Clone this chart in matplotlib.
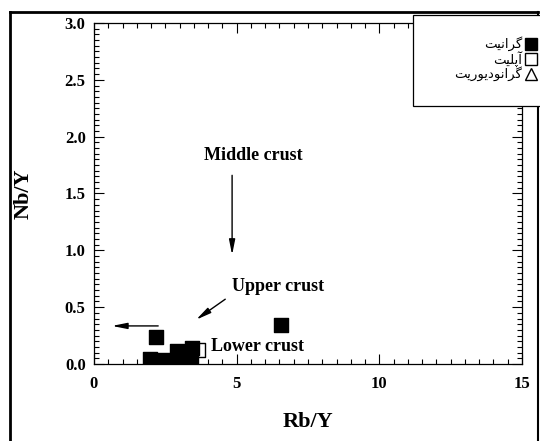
import matplotlib
matplotlib.use("Agg")
import matplotlib.pyplot as plt
from matplotlib.lines import Line2D
from matplotlib.patches import Rectangle
from matplotlib.ticker import MultipleLocator, FormatStrFormatter

# Rb/Y and Nb/Y ratios
granite_rby = [2.18, 1.96, 2.42, 2.91, 2.95, 3.44, 3.40, 6.56]
granite_nby = [0.24, 0.045, 0.035, 0.11, 0.05, 0.14, 0.05, 0.34]
aplite_rby = [3.65]
aplite_nby = [0.12]

# Persian legend labels in visual (left-to-right) order with joined letter forms
label_granite = "\uFE96\uFBFF\uFEE7\uFE8D\uFEAE\uFB94"                      # گرانیت
label_aplite = "\uFE96\uFBFF\uFEE0\uFB58\uFE81"                             # آپلیت
label_granodiorite = "\uFE96\uFBFE\uFEAD\uFEEE\uFBFE\uFEA9\uFEEE\uFEE7\uFE8D\uFEAE\uFB94"  # گرانودیوریت

serif = ["Liberation Serif", "DejaVu Serif"]
W, H = 540, 441

fig = plt.figure(figsize=(W / 100, H / 100), dpi=100)
ax = fig.add_axes([94 / W, 1 - 364 / H, (522 - 94) / W, (364 - 23) / H])

ax.scatter(granite_rby, granite_nby, marker="s", s=110, c="black",
           edgecolors="black", zorder=3)
ax.scatter(aplite_rby, aplite_nby, marker="s", s=110, facecolors="white",
           edgecolors="black", linewidths=1, zorder=2)

ax.set_xlim(0, 15)
ax.set_ylim(0, 3.0)
ax.xaxis.set_major_locator(MultipleLocator(5))
ax.xaxis.set_minor_locator(MultipleLocator(0.5))
ax.yaxis.set_major_locator(MultipleLocator(0.5))
ax.yaxis.set_minor_locator(MultipleLocator(0.05))
ax.tick_params(which="both", direction="in", top=True, right=True, width=0.8)
ax.tick_params(which="major", length=7)
ax.tick_params(which="minor", length=3.5)
for sp in ax.spines.values():
    sp.set_linewidth(0.9)

ax.xaxis.set_major_formatter(FormatStrFormatter("%d"))
ax.yaxis.set_major_formatter(FormatStrFormatter("%.1f"))
for lbl in ax.get_xticklabels() + ax.get_yticklabels():
    lbl.set_fontfamily(serif)
    lbl.set_fontweight("bold")
    lbl.set_fontsize(12)
ax.tick_params(axis="x", pad=9)
ax.tick_params(axis="y", pad=6)

ax.set_xlabel("Rb/Y", fontfamily=serif, fontweight="bold", fontsize=16, labelpad=14)
ax.set_ylabel("Nb/Y", fontfamily=serif, fontweight="bold", fontsize=16, labelpad=22)

text_kw = dict(fontfamily=serif, fontweight="bold", fontsize=13)
arrow_kw = dict(arrowstyle="-|>,head_length=0.9,head_width=0.18", color="black",
                lw=1.0, shrinkA=0, shrinkB=0)

ax.text(5.6, 1.83, "Middle crust", ha="center", va="center", **text_kw)
ax.annotate("", xy=(4.84, 0.96), xytext=(4.84, 1.66), arrowprops=arrow_kw)

ax.text(6.45, 0.68, "Upper crust", ha="center", va="center", **text_kw)
ax.annotate("", xy=(3.58, 0.39), xytext=(4.6, 0.57), arrowprops=arrow_kw)
ax.annotate("", xy=(0.63, 0.335), xytext=(2.25, 0.335), arrowprops=arrow_kw)

ax.text(4.1, 0.15, "Lower crust", ha="left", va="center", **text_kw)

# legend box (right-to-left: label, then symbol)
fig.add_artist(Rectangle((413 / W, 1 - 106 / H), 140 / W, 91 / H,
                         transform=fig.transFigure, facecolor="white",
                         edgecolor="black", lw=0.9, zorder=5))
legend_rows = [
    (label_granite, dict(marker="s", mfc="black", mec="black")),
    (label_aplite, dict(marker="s", mfc="white", mec="black")),
    (label_granodiorite, dict(marker="^", mfc="white", mec="black")),
]
for i, (label, mstyle) in enumerate(legend_rows):
    y = 1 - (44 + 15 * i) / H
    fig.text(522 / W, y, label, ha="right", va="center", fontsize=9.5,
             family="DejaVu Sans", zorder=6)
    fig.add_artist(Line2D([531 / W], [y], ls="none", ms=8, mew=1.0,
                          transform=fig.transFigure, zorder=6, **mstyle))

# outer frame
fig.add_artist(Line2D([10 / W, 10 / W], [-0.05, 1 - 12 / H],
                      color="black", lw=2, transform=fig.transFigure))
fig.add_artist(Line2D([10 / W, 538 / W], [1 - 12 / H, 1 - 12 / H],
                      color="black", lw=2, transform=fig.transFigure))
fig.add_artist(Line2D([538 / W, 538 / W], [-0.05, 1 - 12 / H],
                      color="black", lw=1.5, transform=fig.transFigure))

fig.savefig("out.png", dpi=100)
